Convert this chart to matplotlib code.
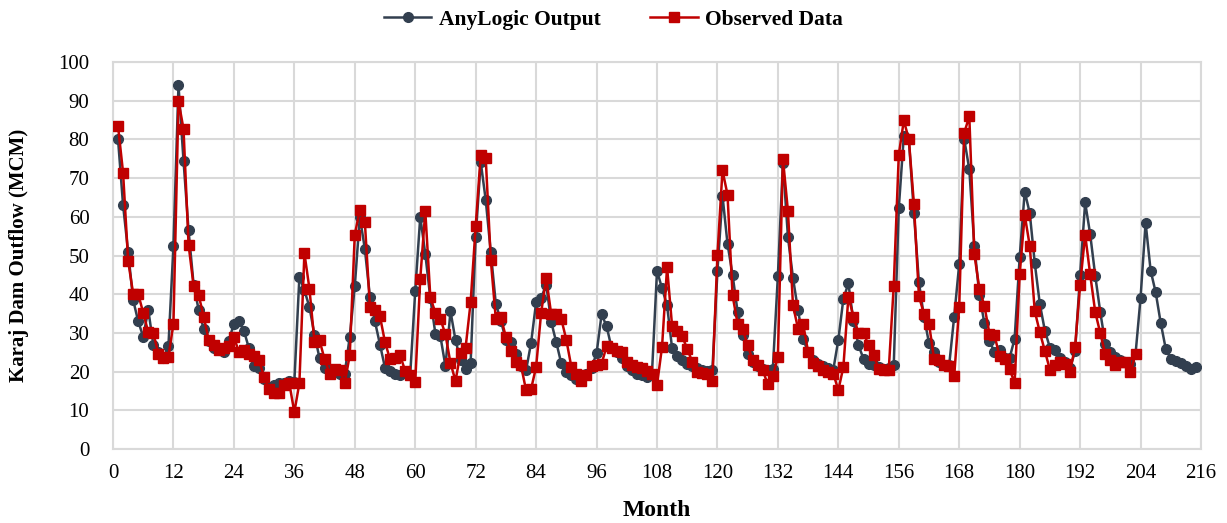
import matplotlib
matplotlib.use("Agg")
import matplotlib.pyplot as plt
import numpy as np

anylogic = [
    80, 63, 51, 38.5, 33, 29, 36, 27, 25, 23.5, 26.5, 52.5,
    94, 74.5, 56.5, 42.5, 36, 31, 28, 26, 25.5, 25, 28, 32.4,
    33, 30.5, 26, 21.5, 21, 18, 16, 16.5, 17, 17, 17.5, 17.3,
    44.4, 41, 36.7, 29.5, 23.5, 21, 20, 20.5, 19.5, 19.5, 29, 42,
    60, 51.7, 39.4, 33, 27, 21, 20.2, 19.5, 19, 19.9, 19.1, 40.8,
    60, 50.4, 39, 29.8, 29.1, 21.4, 35.6, 28.1, 22.9, 20.8, 22.2, 54.7,
    74.2, 64.3, 51, 37.5, 33.2, 28.1, 27.6, 24.6, 21.4, 20.3, 27.4, 37.9,
    39, 42.5, 32.8, 27.6, 22.1, 19.9, 19.1, 18.2, 19, 19.5, 21, 24.7,
    34.8, 31.7, 26, 25, 23.5, 21.5, 20.5, 19.5, 19, 18.5, 19.5, 46,
    41.5, 37.1, 26, 24, 23, 22, 21.5, 21, 20.5, 20.2, 20.5, 46,
    65.5, 53, 45, 35.5, 29.5, 24.5, 22.5, 21.5, 20.8, 20.3, 20.8, 44.8,
    74, 54.7, 44.2, 35.8, 28.5, 25, 23, 22, 21.5, 21, 20.5, 28.2,
    38.8, 42.8, 33, 26.8, 23.3, 22, 21.6, 21.2, 20.8, 21, 21.6, 62.2,
    80.9, 80, 61.1, 43.1, 34.1, 27.4, 25.1, 22.5, 21.8, 21.6, 34.2, 47.8,
    80, 72.3, 52.5, 39.8, 32.5, 28, 25, 25.5, 23.5, 23.5, 28.5, 49.5,
    66.5, 61, 48, 37.5, 30.6, 26.2, 25.7, 23.5, 22.5, 21, 25.2, 45,
    63.7, 55.5, 44.8, 35.4, 27.2, 25, 23.7, 23, 22.5, 22, 24.5, 39,
    58.5, 46.1, 40.5, 32.6, 25.9, 23.3, 22.8, 22.2, 21.5, 20.6, 21.2,
]

observed = [
    83.4, 71.4, 48.7, 40.1, 40.1, 35.2, 30.2, 30, 24.6, 23.6, 23.8, 32.4,
    89.9, 82.7, 52.8, 42.2, 39.8, 34.2, 28.2, 26.8, 25.5, 26, 26.5, 29,
    25, 25.5, 24.5, 24, 23, 18.5, 15.5, 14.5, 14.5, 16.5, 17, 9.5,
    17, 50.6, 41.4, 27.6, 28.1, 23.2, 19.5, 20.8, 20.3, 17.1, 24.2, 55.4,
    61.8, 58.7, 36.8, 35.8, 34.3, 27.6, 23.2, 23.5, 24.2, 20.2, 19.1, 17.3,
    44, 61.5, 39.2, 35.2, 33.6, 29.6, 22.2, 17.6, 24.9, 26.2, 37.9, 57.5,
    75.9, 75.1, 48.9, 33.6, 34.1, 28.9, 25.3, 22.5, 21.6, 15.2, 15.5, 21.2,
    35.2, 44.2, 34.8, 34.8, 33.6, 28.2, 21.2, 19.5, 17.6, 19, 21.4, 21.6,
    22, 26.6, 26, 25.3, 25, 22.6, 21.7, 21.2, 20.9, 20.2, 19.5, 16.5,
    26.4, 47, 31.7, 30.6, 29.1, 25.9, 22.5, 19.9, 19.7, 19.5, 17.6, 50.2,
    72, 65.7, 39.7, 32.4, 31.1, 26.8, 22.9, 21.6, 20.3, 16.7, 18.8, 23.9,
    75, 61.4, 37.1, 31.1, 32.4, 25.1, 22.2, 21.4, 20.3, 19.9, 19.5, 15.2,
    21.2, 39.4, 34.2, 30, 30, 26.8, 24.2, 20.8, 20.3, 20.3, 42.2, 76,
    84.9, 80, 63.4, 39.5, 34.9, 32.4, 23.3, 22.9, 21.6, 21.4, 18.8, 36.8,
    81.7, 86, 50.4, 41.4, 37, 29.8, 29.4, 24, 23.3, 20.7, 17, 45.1,
    60.5, 52.5, 35.6, 30.2, 25.3, 20.5, 21.6, 22.5, 22, 20, 26.4, 42.4,
    55.4, 45.1, 35.4, 30, 24.5, 23, 21.7, 22.6, 22.5, 19.8, 24.5,
]

months_a = np.arange(1, len(anylogic) + 1)
months_o = np.arange(1, len(observed) + 1)

x_ticks = list(range(0, 217, 12))
y_ticks = list(range(0, 101, 10))

plt.rcParams['font.family'] = ['Liberation Serif', 'DejaVu Serif']

fig = plt.figure(figsize=(12.27, 5.23), dpi=100)
ax = fig.add_axes([113 / 1227, 1 - 449 / 523, (1201 - 113) / 1227, (449 - 62) / 523])

dark = '#323f4f'
red = '#c00000'

ax.plot(months_a, anylogic, color=dark, lw=1.8, marker='o', ms=7,
        markerfacecolor=dark, markeredgecolor=dark, label='AnyLogic Output', zorder=3)
ax.plot(months_o, observed, color=red, lw=1.8, marker='s', ms=7,
        markerfacecolor=red, markeredgecolor=red, label='Observed Data', zorder=4)

ax.set_xlim(0, 216)
ax.set_ylim(0, 100)
ax.set_xticks(x_ticks)
ax.set_yticks(y_ticks)
ax.grid(True, color='#d9d9d9', lw=1.5)
ax.set_axisbelow(True)
for s in ax.spines.values():
    s.set_color('#d9d9d9')
    s.set_linewidth(1.5)
ax.tick_params(length=0, labelsize=15)
ax.tick_params(axis='y', pad=17)
ax.tick_params(axis='x', pad=11)

ax.set_xlabel('Month', fontsize=17, fontweight='bold', labelpad=12)
ax.set_ylabel('Karaj Dam Outflow (MCM)', fontsize=15, fontweight='bold', labelpad=21)

leg = fig.legend(loc='upper center', bbox_to_anchor=(0.5, 1.018), ncol=2, frameon=False,
                 prop={'weight': 'bold', 'size': 15.5}, handlelength=2.2, columnspacing=2.3,
                 handletextpad=0.35)

fig.savefig('out.png', dpi=100)
